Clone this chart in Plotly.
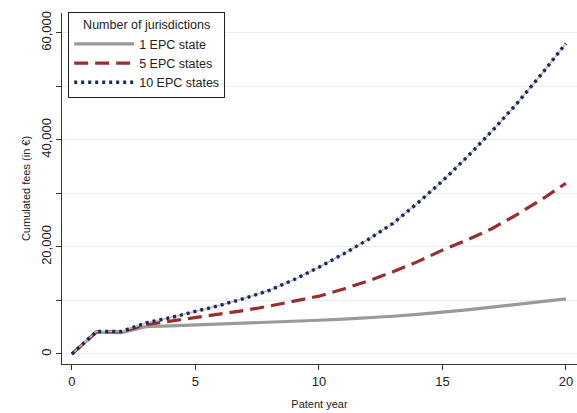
import plotly.graph_objects as go

years = list(range(0, 21))
epc1 = [0, 4100, 4000, 5100, 5250, 5400, 5550, 5700, 5850, 6050, 6300, 6500, 6750, 7050, 7400, 7800, 8250, 8750, 9250, 9750, 10300]
epc5 = [0, 4150, 4150, 5500, 6150, 6800, 7450, 8150, 8950, 9850, 10800, 12150, 13650, 15350, 17250, 19400, 21300, 23400, 26000, 28800, 31900]
epc10 = [0, 4200, 4200, 5800, 6800, 7900, 9100, 10400, 11900, 13900, 16200, 18700, 21400, 24400, 28200, 32300, 36800, 41600, 46700, 52200, 58000]

x_ticks = [0, 5, 10, 15, 20]
y_ticks = [0, 20000, 40000, 60000]
y_tick_labels = ["0", "20,000", "40,000", "60,000"]

font = "Liberation Sans, Arial, sans-serif"

fig = go.Figure()
fig.add_trace(go.Scatter(x=years, y=epc1, mode="lines", name="1 EPC state",
                         line=dict(color="#9a9a9a", width=3.2)))
fig.add_trace(go.Scatter(x=years, y=epc5, mode="lines", name="5 EPC states",
                         line=dict(color="#9b2d2f", width=3.2, dash="14px,7px")))
fig.add_trace(go.Scatter(x=years, y=epc10, mode="lines", showlegend=False, hoverinfo="skip",
                         line=dict(color="#b8bcc8", width=1.5)))
fig.add_trace(go.Scatter(x=years, y=epc10, mode="lines", name="10 EPC states",
                         line=dict(color="#1b2a55", width=3.4, dash="3px,4px")))

fig.update_layout(
    width=577, height=413,
    margin=dict(l=62, r=0, t=13, b=49, autoexpand=False),
    paper_bgcolor="white", plot_bgcolor="white",
    font=dict(family=font, size=12, color="#222"),
    legend=dict(
        title=dict(text="Number of jurisdictions", font=dict(size=12.5), side="top center"),
        x=0.012, y=1.003, xanchor="left", yanchor="top",
        bordercolor="#222", borderwidth=1, bgcolor="white",
        font=dict(size=12.5), tracegroupgap=0, itemwidth=60,
    ),
    xaxis=dict(
        range=[-0.4, 20.45], tickvals=x_ticks, ticks="outside", ticklen=5,
        tickcolor="#333", showline=True, linecolor="#333", linewidth=1,
        showgrid=False, zeroline=False, tickfont=dict(size=13), automargin=False,
        title=dict(text="Patent year", font=dict(size=11), standoff=12),
    ),
    yaxis=dict(
        range=[-1870, 63700], tickvals=y_ticks, ticktext=y_tick_labels,
        tickangle=-90, ticks="outside", ticklen=5, tickcolor="#333",
        showline=True, linecolor="#333", linewidth=1, automargin=False,
        showgrid=True, gridcolor="#e4eef3", gridwidth=1, zeroline=False,
        tickfont=dict(size=13),
        minor=dict(tickvals=[10000, 30000, 50000], ticks="outside", ticklen=5,
                   tickcolor="#333", showgrid=True, gridcolor="#e4eef3"),
        title=dict(text="Cumulated fees (in €)", font=dict(size=11), standoff=5),
    ),
)

fig.write_html("out.html", config={"displayModeBar": False},
               post_script="document.body.style.margin='0';document.body.style.overflow='hidden';")
